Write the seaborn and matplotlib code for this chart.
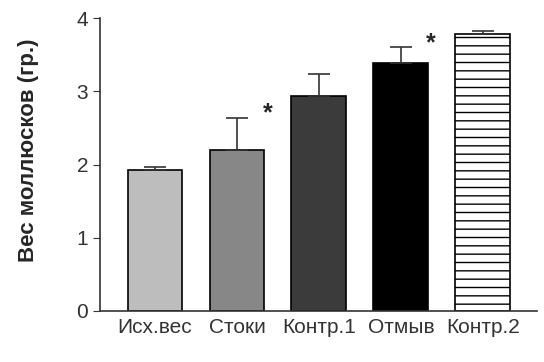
import numpy as np
import pandas as pd
import seaborn as sns
import matplotlib.pyplot as plt

# данные
grupos = ['Исх.вес', 'Стоки', 'Контр.1', 'Отмыв', 'Контр.2']
peso = [1.92, 2.20, 2.94, 3.38, 3.78]
erro = [0.04, 0.44, 0.30, 0.22, 0.05]
cores = ['#bdbdbd', '#878787', '#3b3b3b', '#000000', '#ffffff']
estrelas = ['', '*', '', '*', '']

df = pd.DataFrame({'grupo': grupos, 'peso': peso})

sns.set_style('ticks')
plt.rcParams['font.family'] = ['Liberation Sans', 'DejaVu Sans']

fig = plt.figure(figsize=(5.44, 3.62), dpi=100)
ax = fig.add_axes([0.184, 0.141, 0.803, 0.809])

sns.barplot(data=df, x='grupo', y='peso', hue='grupo', palette=cores,
            edgecolor='black', linewidth=1.2, width=0.67, legend=False, ax=ax)

ax.patches[4].set_hatch('--')

# barras de erro (só para cima)
xs = np.arange(len(grupos))
ax.errorbar(xs, peso, yerr=[np.zeros(len(erro)), erro], fmt='none',
            ecolor='#333333', elinewidth=1.2, capsize=8, capthick=1.2, zorder=1)

# asteriscos
for i, s in enumerate(estrelas):
    if s:
        ax.text(i + 0.37, peso[i] + erro[i] + 0.06, s, fontsize=18,
                fontweight='bold', ha='center', va='center')

ax.set_xlim(-0.67, 4.66)
ax.set_ylim(0, 4)
ax.set_yticks([0, 1, 2, 3, 4])
ax.set_xlabel('')
ax.set_ylabel('Вес моллюсков (гр.)', fontsize=16, fontweight='bold')
ax.yaxis.set_label_coords(-0.14, 0.55)
ax.tick_params(axis='y', labelsize=15, length=5, color='#333333', labelcolor='#333333')
ax.tick_params(axis='x', labelsize=15, length=0, pad=5, labelcolor='#333333')
ax.spines['top'].set_visible(False)
ax.spines['right'].set_visible(False)
for sp in ['left', 'bottom']:
    ax.spines[sp].set_color('#333333')
    ax.spines[sp].set_linewidth(1.2)

plt.savefig('out.png', dpi=100)
